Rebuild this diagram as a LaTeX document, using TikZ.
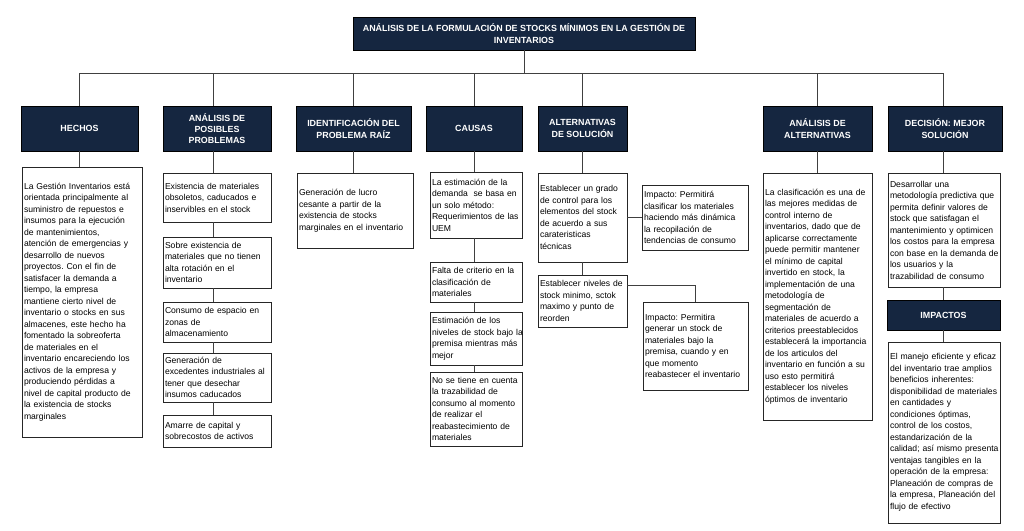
\documentclass[tikz,border=0pt]{standalone}
\usepackage{fontspec}
\setmainfont{Liberation Sans}
\definecolor{navy}{RGB}{21,38,64}
\newcommand{\cajafont}{\fontsize{8.6}{11.5}\selectfont\frenchspacing\hyphenpenalty=10000\relax}
\begin{document}
\begin{tikzpicture}[x=1pt, y=-1pt,
    cabecera/.style={fill=navy, draw=black, text=white, align=center, inner sep=0pt,
        font=\fontsize{8.9}{11.2}\selectfont\bfseries},
    caja/.style={draw=black!85, fill=white, align=left, inner xsep=2pt, inner ysep=0pt,
        line width=0.7pt, font=\cajafont},
    linea/.style={draw=black!75, line width=0.8pt}]

    \useasboundingbox (0,0) rectangle (1024,530);

    % Title and bus
    \node[cabecera, minimum width=342, minimum height=33] (titulo_main) at (524,33.5)
        {ANÁLISIS DE LA FORMULACIÓN DE STOCKS MÍNIMOS EN LA GESTIÓN DE\\INVENTARIOS};
    \coordinate (bus_hechos) at (79,73);
    \coordinate (bus_posibles) at (213,73);
    \coordinate (bus_raiz) at (353,73);
    \coordinate (bus_causas) at (474,73);
    \coordinate (bus_alternativas) at (582,73);
    \coordinate (bus_analisis) at (817,73);
    \coordinate (bus_decision) at (943,73);

    % Column headers
    \node[cabecera, minimum width=117, minimum height=45] (hechos_head) at (79.5,128.5) {HECHOS};
    \node[cabecera, minimum width=108, minimum height=45] (posibles_head) at (217,128.5) {ANÁLISIS DE\\POSIBLES\\PROBLEMAS};
    \node[cabecera, minimum width=115, minimum height=45] (raiz_head) at (353.5,128.5) {IDENTIFICACIÓN DEL\\PROBLEMA RAÍZ};
    \node[cabecera, minimum width=96, minimum height=45] (causas_head) at (474,128.5) {CAUSAS};
    \node[cabecera, minimum width=89, minimum height=45] (alternativas_head) at (582.5,128.5) {ALTERNATIVAS\\DE SOLUCIÓN};
    \node[cabecera, minimum width=109, minimum height=45] (analisis_head) at (817.5,128.5) {ANÁLISIS DE\\ALTERNATIVAS};
    \node[cabecera, minimum width=114, minimum height=45] (decision_head) at (945,128.5) {DECISIÓN: MEJOR\\SOLUCIÓN};

    % Hechos
    \node[caja, text width=116, minimum height=270] (hechos_box) at (82,302)
        {La Gestión Inventarios está\\orientada principalmente al\\suministro de repuestos e\\insumos para la ejecución\\de mantenimientos,\\atención de emergencias y\\desarrollo de nuevos\\proyectos. Con el fin de\\satisfacer la demanda a\\tiempo, la empresa\\mantiene cierto nivel de\\inventario o stocks en sus\\almacenes, este hecho ha\\fomentado la sobreoferta\\de materiales en el\\inventario encareciendo los\\activos de la empresa y\\produciendo pérdidas a\\nivel de capital producto de\\la existencia de stocks\\marginales};

    % Posibles problemas
    \node[caja, text width=104, minimum height=49] (problema_1) at (217,197.5)
        {Existencia de materiales\\obsoletos, caducados e\\inservibles en el stock};
    \node[caja, text width=104, minimum height=51] (problema_2) at (217,262.5)
        {Sobre existencia de\\materiales que no tienen\\alta rotación en el\\inventario};
    \node[caja, text width=104, minimum height=40] (problema_3) at (217,322)
        {Consumo de espacio en\\zonas de\\almacenamiento};
    \node[caja, text width=104, minimum height=49] (problema_4) at (217,377.5)
        {Generación de\\excedentes~industriales~al\\tener que desechar\\insumos caducados};
    \node[caja, text width=104, minimum height=32] (problema_5) at (217,431)
        {Amarre de capital y\\sobrecostos de activos};

    % Problema raiz
    \node[caja, text width=112, minimum height=75] (raiz_box) at (355,210.5)
        {Generación de lucro\\cesante a partir de la\\existencia de stocks\\marginales~en~el~inventario};

    % Causas
    \node[caja, text width=88, minimum height=66] (causa_1) at (476,205)
        {La estimación de la\\demanda \ se basa en\\un solo método:\\Requerimientos~de~las\\UEM};
    \node[caja, text width=88, minimum height=40] (causa_2) at (476,282)
        {Falta de criterio en la\\clasificación de\\materiales};
    \node[caja, text width=88, minimum height=53] (causa_3) at (476,338.5)
        {Estimación de los\\niveles~de~stock~bajo~la\\premisa mientras más\\mejor};
    \node[caja, text width=88, minimum height=74] (causa_4) at (476,409)
        {No se tiene en cuenta\\la trazabilidad de\\consumo al momento\\de realizar el\\reabastecimiento de\\materiales};

    % Alternativas de solucion
    \node[caja, text width=85, minimum height=89] (alternativa_1) at (582.5,217.5)
        {Establecer un grado\\de control para los\\elementos del stock\\de acuerdo a sus\\carateristicas\\técnicas};
    \node[caja, text width=102, minimum height=65] (impacto_1) at (695,217.5)
        {Impacto: Permitirá\\clasificar los materiales\\haciendo más dinámica\\la recopilación de\\tendencias de consumo};
    \node[caja, text width=85, minimum height=52] (alternativa_2) at (582.5,301)
        {Establecer~niveles~de\\stock minimo, sctok\\maximo y punto de\\reorden};
    \node[caja, text width=101, minimum height=88] (impacto_2) at (695.5,346)
        {Impacto: Permitira\\generar un stock de\\materiales bajo la\\premisa, cuando y en\\que momento\\reabastecer~el~inventario};

    % Analisis de alternativas
    \node[caja, text width=105, minimum height=247] (analisis_box) at (817.5,296.5)
        {La clasificación es una de\\las mejores medidas de\\control interno de\\inventarios, dado que de\\aplicarse correctamente\\puede permitir mantener\\el mínimo de capital\\invertido en stock, la\\implementación de una\\metodología de\\segmentación de\\materiales de acuerdo a\\criterios preestablecidos\\establecerá~la~importancia\\de los articulos del\\inventario~en~función~a~su\\uso esto permitirá\\establecer los niveles\\óptimos de inventario};

    % Decision e impactos
    \node[caja, text width=108, minimum height=114] (decision_box) at (944,230)
        {Desarrollar una\\metodología predictiva que\\permita definir valores de\\stock que satisfagan el\\mantenimiento~y~optimicen\\los costos para la empresa\\con~base~en~la~demanda~de\\los usuarios y la\\trazabilidad de consumo};
    \node[cabecera, minimum width=113, minimum height=30] (impactos_head) at (943.5,315) {IMPACTOS};
    \node[caja, text width=108, minimum height=181] (impactos_box) at (944,432.5)
        {El manejo eficiente y eficaz\\del inventario trae amplios\\beneficios inherentes:\\disponibilidad~de~materiales\\en cantidades y\\condiciones óptimas,\\control de los costos,\\estandarización de la\\calidad;~así~mismo~presenta\\ventajas tangibles en la\\operación de la empresa:\\Planeación de compras de\\la empresa, Planeación del\\flujo de efectivo};

    % Connectors
    \draw[linea] (titulo_main.south) -- (titulo_main.south |- bus_hechos);
    \draw[linea] (bus_hechos) -- (bus_decision);
    \foreach \c/\h in {bus_hechos/hechos_head, bus_posibles/posibles_head, bus_raiz/raiz_head,
        bus_causas/causas_head, bus_alternativas/alternativas_head, bus_analisis/analisis_head,
        bus_decision/decision_head}
        \draw[linea] (\c) -- (\c |- \h.north);
    \foreach \a/\b/\c in {hechos_head/hechos_box/bus_hechos,
        posibles_head/problema_1/bus_posibles, problema_1/problema_2/bus_posibles,
        problema_2/problema_3/bus_posibles, problema_3/problema_4/bus_posibles,
        problema_4/problema_5/bus_posibles, raiz_head/raiz_box/bus_raiz,
        causas_head/causa_1/bus_causas, causa_1/causa_2/bus_causas,
        causa_2/causa_3/bus_causas, causa_3/causa_4/bus_causas,
        alternativas_head/alternativa_1/bus_alternativas,
        alternativa_1/alternativa_2/bus_alternativas,
        analisis_head/analisis_box/bus_analisis, decision_head/decision_box/bus_decision,
        decision_box/impactos_head/bus_decision, impactos_head/impactos_box/bus_decision}
        \draw[linea] (\a.south -| \c) -- (\b.north -| \c);
    \draw[linea] (alternativa_1) -- (impacto_1);
    \draw[linea] ([yshift=-11]alternativa_2.north east) -| (impacto_2.north);
\end{tikzpicture}
\end{document}
